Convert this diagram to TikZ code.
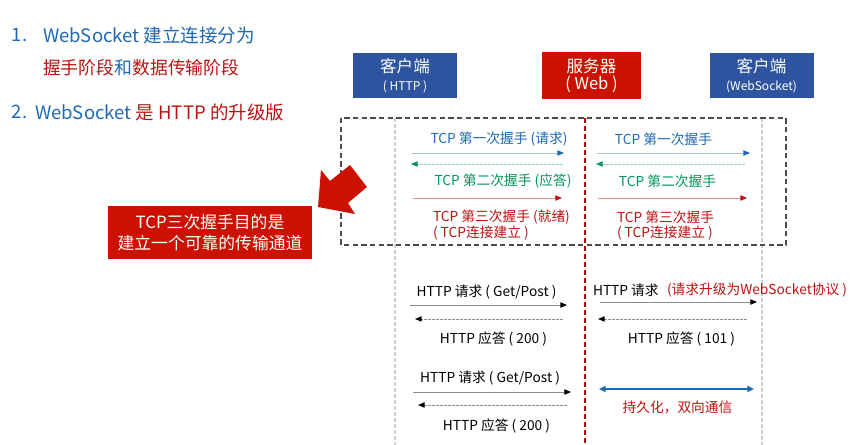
\documentclass[tikz,border=0pt]{standalone}
\usepackage{fontspec}
\setmainfont{Noto Sans CJK SC}
\usetikzlibrary{arrows.meta}
\definecolor{tblue}{RGB}{30,104,180}
\definecolor{tred}{RGB}{190,18,18}
\definecolor{tgreen}{RGB}{0,150,90}
\definecolor{boxblue}{RGB}{46,84,160}
\definecolor{boxred}{RGB}{204,17,0}
\definecolor{lifegray}{RGB}{200,205,215}
\tikzset{
  every node/.style={inner sep=0pt, outer sep=0pt},
  title/.style={font=\fontsize{13.9}{17}\selectfont, anchor=west},
  msg/.style={font=\fontsize{10.3}{12}\selectfont},
  roleblue/.style={fill=boxblue, text=white, minimum width=78pt, minimum height=34pt, align=center},
  rolered/.style={fill=boxred, text=white, minimum width=74pt, minimum height=35pt, align=center},
  lifeline/.style={draw=lifegray, line width=0.8pt, dash pattern=on 3pt off 1.5pt},
  srvline/.style={draw=boxred!85!black, line width=0.8pt, dash pattern=on 4pt off 2pt},
  reqblue/.style={draw=tblue!40!white, line width=0.7pt, -{Triangle[length=5pt,width=4pt,color=tblue]}},
  ackgreen/.style={draw=tgreen!45!white, line width=0.7pt, dash pattern=on 2pt off 1pt, -{Triangle[length=5pt,width=4pt,color=tgreen]}},
  rdyred/.style={draw=tred!45!white, line width=0.7pt, -{Triangle[length=5pt,width=4pt,color=tred]}},
  reqgray/.style={draw=black!45, line width=0.7pt, -{Triangle[length=5pt,width=4pt,color=black]}},
  respgray/.style={draw=black!45, line width=0.7pt, dash pattern=on 2pt off 1pt, -{Triangle[length=5pt,width=4pt,color=black]}},
  duplex/.style={draw=tblue, line width=1.5pt, {Triangle[length=5pt,width=4.5pt]}-{Triangle[length=5pt,width=4.5pt]}},
}
\begin{document}
\begin{tikzpicture}[x=0.75pt,y=-0.75pt]
\useasboundingbox (0,0) rectangle (859,445);

% headline text
\node[title, text=tblue] (t1n) at (12,35) {1.};
\node[title, text=tblue] (t1) at (43,35) {WebSocket 建立连接分为};
\node[title, font=\fontsize{13.4}{17}\selectfont] (t2) at (43,68) {{\color{tred}握手阶段}{\color{tblue}和}{\color{tred}数据传输阶段}};
\node[title, text=tblue] (t3n) at (12,112) {2.};
\node[title] (t3) at (35,112) {{\color{tblue}WebSocket} {\color{tred}是 HTTP 的升级版}};

% participants
\node[roleblue] (cli) at (405,75.5) {{\fontsize{12.4}{14}\selectfont 客户端}\\[1pt]{\fontsize{9}{11}\selectfont ( HTTP )}};
\node[rolered] (srv) at (591.5,75.5) {{\fontsize{12.4}{14}\selectfont 服务器}\\[1pt]{\fontsize{12.4}{14}\selectfont ( Web )}};
\node[roleblue] (ws) at (761.5,75.5) {{\fontsize{12.4}{14}\selectfont 客户端}\\[1pt]{\fontsize{9}{11}\selectfont (WebSocket)}};

% lifelines
\coordinate (cliT) at (395,118); \coordinate (cliB) at (395,445);
\coordinate (srvT) at (585,118); \coordinate (srvB) at (585,445);
\coordinate (wsT) at (762,118); \coordinate (wsB) at (762,445);
\draw[lifeline] (cliT) -- (cliB);
\draw[srvline] (srvT) -- (srvB);
\draw[lifeline] (wsT) -- (wsB);

% handshake frame
\draw[draw=black!70, line width=0.9pt, dash pattern=on 4pt off 2.5pt] (341,118) rectangle (786,245);

% TCP handshake, HTTP client side
\coordinate (a1s) at (412,153); \coordinate (a1e) at (564,153);
\coordinate (a2s) at (563,164); \coordinate (a2e) at (411,164);
\coordinate (a3s) at (413,198); \coordinate (a3e) at (562,198);
\node[msg, text=tblue] (m1) at (499,139) {TCP 第一次握手 (请求)};
\draw[reqblue] (a1s) -- (a1e);
\draw[ackgreen] (a2s) -- (a2e);
\node[msg, text=tgreen] (m2) at (503,181) {TCP 第二次握手 (应答)};
\draw[rdyred] (a3s) -- (a3e);
\node[msg, text=tred, anchor=west] (m3) at (433,217) {TCP 第三次握手 (就绪)};
\node[msg, text=tred, anchor=west] (m3b) at (433,233) {( TCP连接建立 )};

% TCP handshake, WebSocket client side
\coordinate (b1s) at (597,153); \coordinate (b1e) at (750,153);
\coordinate (b2s) at (745,164); \coordinate (b2e) at (596,164);
\coordinate (b3s) at (598,198); \coordinate (b3e) at (747,198);
\node[msg, text=tblue] (n1) at (663.5,139) {TCP 第一次握手};
\draw[reqblue] (b1s) -- (b1e);
\draw[ackgreen] (b2s) -- (b2e);
\node[msg, text=tgreen] (n2) at (667.5,181) {TCP 第二次握手};
\draw[rdyred] (b3s) -- (b3e);
\node[msg, text=tred, anchor=west] (n3) at (617,217) {TCP 第三次握手};
\node[msg, text=tred, anchor=west] (n3b) at (617,233) {( TCP连接建立 )};

% callout with pointer
\node[fill=boxred, text=white, minimum width=153pt, minimum height=40pt, align=center,
      font=\fontsize{12.6}{16}\selectfont] (why) at (210,232.5) {TCP三次握手目的是\\建立一个可靠的传输通道};
\fill[boxred] (318,207) -- (321,170) -- (330,181) -- (350,165) -- (367,187) -- (348,203) -- (355,214) -- cycle;

% plain HTTP exchange
\coordinate (h1s) at (410,305); \coordinate (h1e) at (567,305);
\coordinate (h2s) at (563,319); \coordinate (h2e) at (415,319);
\node[msg] (h1) at (486.5,292) {HTTP 请求 ( Get/Post )};
\draw[reqgray] (h1s) -- (h1e);
\draw[respgray] (h2s) -- (h2e);
\node[msg] (h2) at (493.5,339) {HTTP 应答 ( 200 )};

% upgrade request
\coordinate (u1s) at (600,302); \coordinate (u1e) at (757,302);
\coordinate (u2s) at (747,319); \coordinate (u2e) at (598,319);
\node[msg, anchor=west] (u1) at (593,290) {HTTP 请求};
\node[msg, anchor=west, text=tred] (u1b) at (667,290) {(请求升级为WebSocket协议 )};
\draw[reqgray] (u1s) -- (u1e);
\draw[respgray] (u2s) -- (u2e);
\node[msg] (u2) at (681.5,339) {HTTP 应答 ( 101 )};

% second plain HTTP exchange
\coordinate (k1s) at (413,392); \coordinate (k1e) at (571,392);
\coordinate (k2s) at (567,405); \coordinate (k2e) at (418,405);
\node[msg] (k1) at (490,378) {HTTP 请求 ( Get/Post )};
\draw[reqgray] (k1s) -- (k1e);
\draw[respgray] (k2s) -- (k2e);
\node[msg] (k2) at (496.5,426) {HTTP 应答 ( 200 )};

% persistent full-duplex link
\coordinate (d1) at (599,389); \coordinate (d2) at (754,389);
\draw[duplex] (d1) -- (d2);
\node[msg, text=tred] (dl) at (677.5,407) {持久化，双向通信};
\end{tikzpicture}
\end{document}
